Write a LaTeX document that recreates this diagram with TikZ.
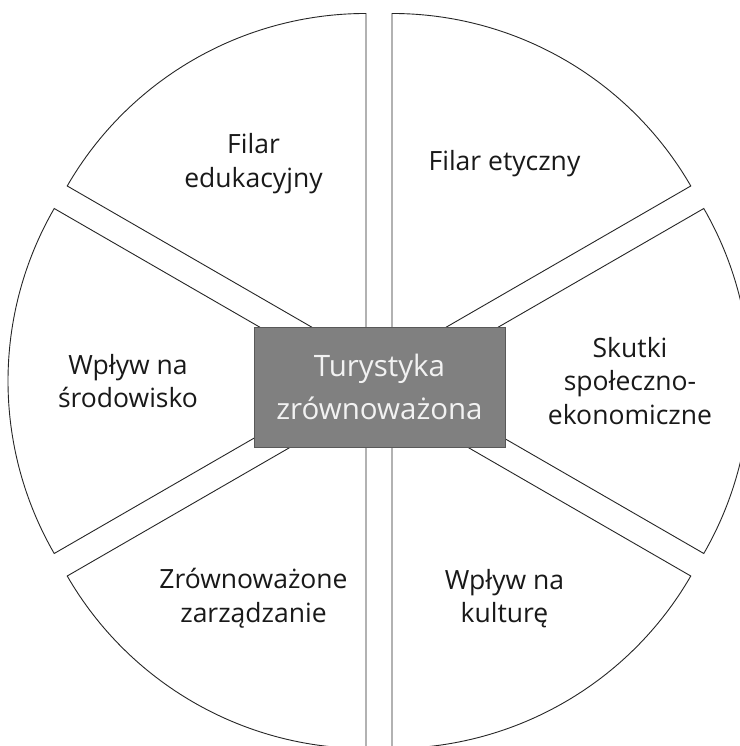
\documentclass[tikz,border=0pt]{standalone}
\usepackage{fontspec}
\setmainfont{Open Sans}
\usetikzlibrary{calc}

\begin{document}
\begin{tikzpicture}[x=1pt,y=1pt,
		slice/.style={draw=black!85,line width=0.9pt,fill=white},
		label/.style={align=center,inner sep=0pt,font=\fontsize{26.5}{33.5}\selectfont,text=black!90},
		hub/.style={draw=black!65,line width=0.8pt,fill=black!50,minimum width=251pt,minimum height=120pt,
			align=center,text=white!95!black,font=\fontsize{29.5}{43}\selectfont}]
			\useasboundingbox (0,0) rectangle (739,746);
			\coordinate (c) at (379,365);
			% six pieces, each pushed out from the middle
			\foreach \ang/\nm/\txt in {120/edu/{Filar\\edukacyjny},60/ety/{Filar etyczny},
				0/sku/{Skutki\\społeczno-\\ekonomiczne},300/kult/{Wpływ na\\kulturę},
				240/zarz/{Zrównoważone\\zarządzanie},180/sro/{Wpływ na\\środowisko}}{
				\draw [slice] ($(c)+(\ang:26)$) coordinate (p-\nm) -- ++(\ang-30:345)
					arc [start angle=\ang-30,end angle=\ang+30,radius=345] -- cycle;
				\node [label] (l-\nm) at ($(c)+(\ang:251)$) {\txt};
			}
			\node [hub] (tz) at (379.5,359) {Turystyka\\zrównoważona};
		\end{tikzpicture}
\end{document}
